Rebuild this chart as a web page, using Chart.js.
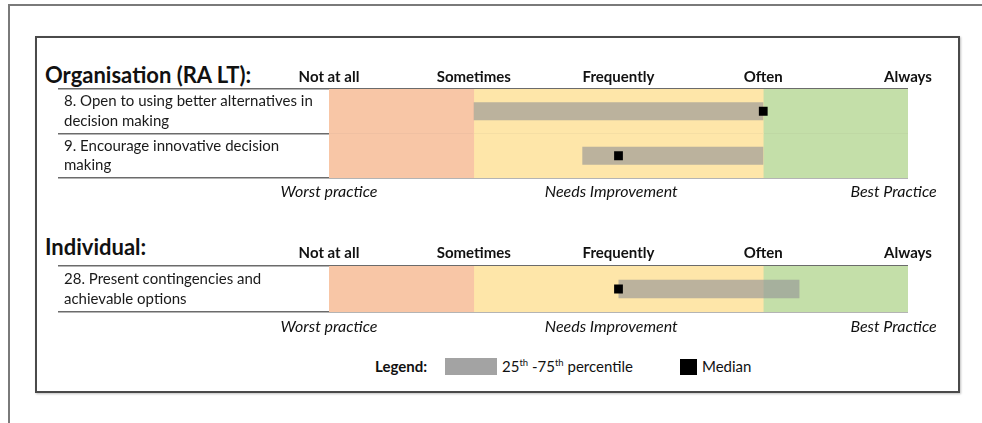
<!DOCTYPE html>
<html><head><meta charset="utf-8">
<script src="https://cdn.jsdelivr.net/npm/chart.js@4.4.1/dist/chart.umd.min.js"></script>
<style>
html,body{margin:0;padding:0;background:#fff;}
#wrap{position:relative;width:982px;height:423px;overflow:hidden;font-family:Lato,"Open Sans",sans-serif;color:#111;}
.outerTop{position:absolute;left:8px;top:4px;width:974px;height:0;border-top:2px solid #7a7a7a;}
.outerLeft{position:absolute;left:8px;top:4px;height:419px;width:0;border-left:2px solid #7a7a7a;}
.box{position:absolute;left:35px;top:36px;width:921px;height:353px;border:2px solid #4a4a4a;box-shadow:1px 1px 2px rgba(0,0,0,0.25);}
canvas{position:absolute;left:0;}
.h{position:absolute;left:45px;font-weight:bold;font-size:22px;line-height:24px;white-space:nowrap;}
.lg{position:absolute;font-size:15px;line-height:17px;white-space:nowrap;}
.sw{position:absolute;}
sup{font-size:9.5px;line-height:0;vertical-align:6px;}
</style></head>
<body>
<div id="wrap">
  <div class="outerTop"></div>
  <div class="outerLeft"></div>
  <div class="box"></div>
  <div class="h" id="h1" style="top:63px;"></div>
  <div class="h" id="h2" style="top:235px;"></div>
  <canvas id="c1" width="982" height="160" style="top:50px;width:982px;height:160px;"></canvas>
  <canvas id="c2" width="982" height="120" style="top:225px;width:982px;height:120px;"></canvas>
  <div class="lg" style="left:375px;top:358px;font-weight:bold;">Legend:</div>
  <div class="sw" style="left:445px;top:358px;width:52px;height:17px;background:#a3a3a3;"></div>
  <div class="lg" style="left:502px;top:358px;">25<sup>th</sup> -75<sup>th</sup> percentile</div>
  <div class="sw" style="left:680px;top:359px;width:17px;height:16px;background:#000;"></div>
  <div class="lg" style="left:702px;top:358px;">Median</div>
</div>
<script>
// ---- data ----
const sectionTitles = ['Organisation (RA LT):', 'Individual:'];
const scaleLabels = ['Not at all', 'Sometimes', 'Frequently', 'Often', 'Always'];
const practiceLabels = ['Worst practice', 'Needs Improvement', 'Best Practice'];
const practiceAt = [1, 2.95, 4.9];
const zoneNames = ['Worst', 'Needs improvement', 'Best'];
const zoneStart = [1, 2, 4];
const zoneEnd = [2, 4, 5];

const orgItems = [['8. Open to using better alternatives in', 'decision making'], ['9. Encourage innovative decision', 'making']];
const orgQ1 = [2, 2.75];
const orgQ3 = [4, 4];
const orgMedian = [4, 3];

const indItems = [['28. Present contingencies and', 'achievable options']];
const indQ1 = [3];
const indQ3 = [4.25];
const indMedian = [3];

// ---- styles ----
const zoneColors = ['#f8c6a6', '#fee6a9', '#c4dfa9'];
const FONT = 'Lato, "Open Sans", sans-serif';
document.getElementById('h1').textContent = sectionTitles[0];
document.getElementById('h2').textContent = sectionTitles[1];

function makeChart(id, items, q1, q3, med, topH, botH, topPad, botPad) {
  const datasets = [];
  zoneNames.forEach((n, i) => {
    datasets.push({
      type: 'bar', label: n, order: 3,
      data: items.map(() => [zoneStart[i], zoneEnd[i]]),
      backgroundColor: zoneColors[i], borderWidth: 0,
      barPercentage: 1, categoryPercentage: 1, grouped: false
    });
  });
  datasets.push({
    type: 'bar', label: '25th-75th percentile', order: 2,
    data: items.map((_, i) => [q1[i], q3[i]]),
    backgroundColor: 'rgba(150,150,150,0.65)', borderWidth: 0,
    barPercentage: 0.4, categoryPercentage: 1, grouped: false
  });
  datasets.push({
    type: 'line', label: 'Median', order: 1,
    data: med, showLine: false,
    pointStyle: 'rect', pointRadius: 6.2, pointHoverRadius: 6.2,
    pointBackgroundColor: '#000', pointBorderWidth: 0, borderColor: '#000'
  });
  return new Chart(document.getElementById(id), {
    type: 'bar',
    data: { labels: items, datasets },
    options: {
      indexAxis: 'y', responsive: false, animation: false,
      layout: { padding: { left: 64, right: 74, top: 0, bottom: 0 } },
      plugins: { legend: { display: false }, tooltip: { enabled: false } },
      scales: {
        x: {
          position: 'top', min: 1, max: 5,
          grid: { display: false, drawTicks: false }, border: { display: false },
          ticks: { stepSize: 1, padding: topPad, color: '#111', font: { family: FONT, size: 15, weight: 'bold' },
                   callback: v => scaleLabels[v - 1] },
          afterFit: s => { s.height = topH; }
        },
        x2: {
          position: 'bottom', min: 1, max: 5,
          grid: { display: false, drawTicks: false }, border: { display: false },
          afterBuildTicks: s => { s.ticks = practiceAt.map(v => ({ value: v })); },
          ticks: { padding: botPad, color: '#111', autoSkip: false, maxRotation: 0,
                   font: { family: FONT, size: 16, style: 'italic' },
                   callback: (v, i) => practiceLabels[i] },
          afterFit: s => { s.height = botH; }
        },
        y: {
          z: 1, offset: true,
          grid: { offset: true, color: '#6b6b6b', lineWidth: 1.5, tickLength: 271, drawOnChartArea: true },
          border: { display: false },
          ticks: { crossAlign: 'far', padding: 0, color: '#1a1a1a',
                   font: { family: FONT, size: 15, lineHeight: 1.3 } },
          afterFit: s => { s.width = 265; }
        }
      }
    }
  });
}

makeChart('c1', orgItems, orgQ1, orgQ3, orgMedian, 39, 32, 3, 4);
makeChart('c2', indItems, indQ1, indQ3, indMedian, 41, 33, 4, 5);
</script>
</body></html>
